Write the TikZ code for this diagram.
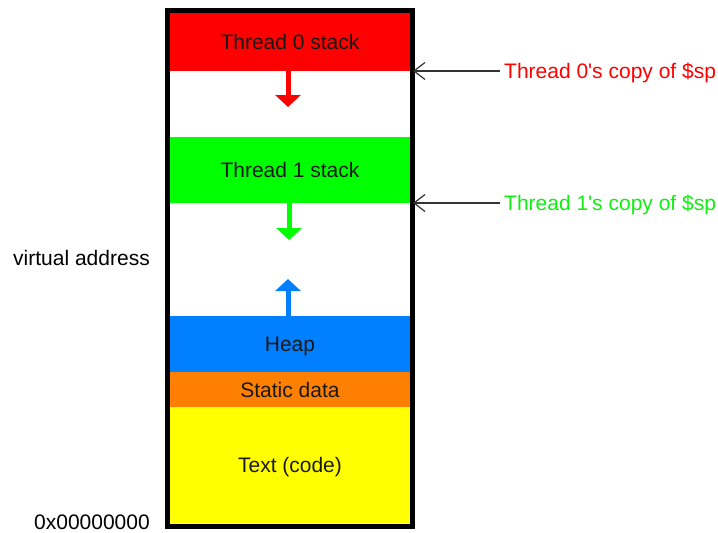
\documentclass[tikz,border=0pt]{standalone}
\usepackage{fontspec}
\setmainfont{Liberation Sans}
\usetikzlibrary{arrows.meta}

\definecolor{stackred}{HTML}{FF0000}
\definecolor{stackgreen}{HTML}{00FF00}
\definecolor{heapblue}{HTML}{0080FF}
\definecolor{dataorange}{HTML}{FF8000}
\definecolor{codeyellow}{HTML}{FFFF00}
\definecolor{labelgreen}{HTML}{11EE11}
\definecolor{pointergray}{HTML}{333333}

\tikzset{
  x=1pt, y=-1pt,
  lbl/.style={inner sep=0pt, text height=15pt, text depth=0pt,
              font=\fontsize{21}{25}\selectfont},
  segment/.style={lbl, minimum width=240pt, text=black!90},
  growth/.style={line width=5pt, -{Triangle[length=12pt,width=25pt]}},
  pointer/.style={pointergray, line width=1.2pt,
                  -{Straight Barb[length=11pt,width=17pt,line width=1.2pt]}}
}

\begin{document}
\begin{tikzpicture}
  \useasboundingbox (0,0) rectangle (718,533);

  % memory segments, top to bottom
  \node[segment, fill=stackred,   minimum height=59pt]  (t0)   at (290,41.5)  {Thread 0 stack};
  \node[segment, fill=stackgreen, minimum height=66pt]  (t1)   at (290,170)   {Thread 1 stack};
  \node[segment, fill=heapblue,   minimum height=56pt]  (heap) at (290,344)   {Heap};
  \node[segment, fill=dataorange, minimum height=35pt]  (sdat) at (290,389.5) {Static data};
  \node[segment, fill=codeyellow, minimum height=116pt] (code) at (290,465)   {Text (code)};

  % outer frame of the address space
  \node[draw=black, line width=5pt, minimum width=245pt, minimum height=516pt,
        inner sep=0pt] (space) at (290,517.5/2+9.25) {};

  % growth directions
  \coordinate (t0tip)   at (288,107);
  \coordinate (t1tip)   at (289,240);
  \coordinate (heaptip) at (288,279);
  \draw[growth, stackred]   (t0.south -| t0tip)     -- (t0tip);
  \draw[growth, stackgreen] (t1.south -| t1tip)     -- (t1tip);
  \draw[growth, heapblue]   (heap.north -| heaptip) -- (heaptip);

  % saved stack pointers
  \node[lbl, anchor=west, text=stackred]   (sp0) at (504,71)  {Thread 0\textquotesingle s copy of \$sp};
  \node[lbl, anchor=west, text=labelgreen] (sp1) at (504,203) {Thread 1\textquotesingle s copy of \$sp};
  \coordinate (sp0at) at (413,71);
  \coordinate (sp1at) at (413,203);
  \draw[pointer] ([xshift=-4pt]sp0.west) -- (sp0at);
  \draw[pointer] ([xshift=-4pt]sp1.west) -- (sp1at);

  % address axis labels
  \node[lbl, anchor=east] (va)   at (150,258)   {virtual address};
  \node[lbl, anchor=east] (zero) at (150,521.5) {0x00000000};
\end{tikzpicture}
\end{document}
